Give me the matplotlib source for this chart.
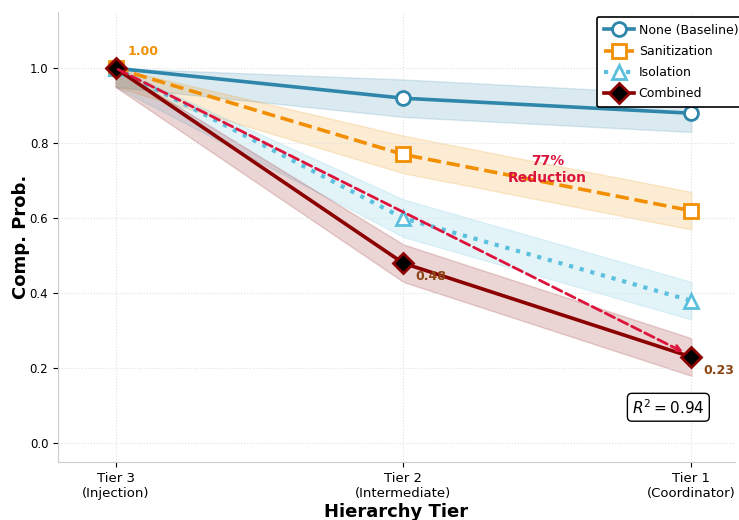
import numpy as np
import matplotlib
matplotlib.use("Agg")
import matplotlib.pyplot as plt


tiers = ["Tier 3\n(Injection)", "Tier 2\n(Intermediate)", "Tier 1\n(Coordinator)"]
labels = ["None (Baseline)", "Sanitization", "Isolation", "Combined"]
none_vals = [1.00, 0.92, 0.88]
sanit_vals = [1.00, 0.77, 0.62]
isol_vals = [1.00, 0.60, 0.38]
comb_vals = [1.00, 0.48, 0.23]
band = 0.05
r2 = 0.94


def main():
    fig, ax = plt.subplots(figsize=(7.39, 5.2), dpi=100)
    x = np.arange(len(tiers))

    series = [
        (none_vals, "#2E86AB", "-", "o", "white", "#2E86AB"),
        (sanit_vals, "#F18F01", "--", "s", "white", "#F18F01"),
        (isol_vals, "#5BC0DE", ":", "^", "white", "#5BC0DE"),
        (comb_vals, "#8B0000", "-", "D", "black", "#8B0000"),
    ]
    for (vals, col, ls, mk, fc, ec), lab in zip(series, labels):
        v = np.array(vals)
        ax.fill_between(x, v - band, np.minimum(v + band, 1.0), color=col,
                        alpha=0.17, zorder=1)
        ax.plot(x, v, color=col, ls=ls, lw=2.6 if ls != ":" else 3, marker=mk,
                ms=10, mfc=fc, mec=ec, mew=2, label=lab, zorder=3)

    ax.annotate("", xy=(x[2] - 0.02, comb_vals[2] + 0.01), xytext=(x[0], comb_vals[0]),
                arrowprops=dict(arrowstyle="->", color="#DC143C", lw=2, ls="--"),
                zorder=4)
    ax.text(1.5, 0.73, "77%\nReduction", color="#DC143C", fontsize=10,
            fontweight="bold", ha="center", va="center")

    ax.text(0.04, 1.035, "1.00", color="#F18F01", fontsize=9, fontweight="bold")
    ax.text(1.04, 0.435, "0.48", color="#8B4513", fontsize=9, fontweight="bold")
    ax.text(2.04, 0.185, "0.23", color="#8B4513", fontsize=9, fontweight="bold")

    ax.text(1.92, 0.096, "$R^2 = %.2f$" % r2, fontsize=11, ha="center", va="center",
            bbox=dict(boxstyle="round,pad=0.3", fc="white", ec="black", lw=1))

    ax.set_xticks(x)
    ax.set_xticklabels(tiers, fontsize=9.5)
    ax.set_xlim(-0.2, 2.15)
    ax.set_ylim(-0.05, 1.15)
    ax.set_yticks([0.0, 0.2, 0.4, 0.6, 0.8, 1.0])
    ax.tick_params(axis="y", labelsize=8.5)
    ax.set_xlabel("Hierarchy Tier", fontsize=13, fontweight="bold", labelpad=2)
    ax.set_ylabel("Comp. Prob.", fontsize=13, fontweight="bold", labelpad=0)
    ax.grid(True, ls=":", color="#e0e0e0", lw=0.8)
    for s in ["top", "right"]:
        ax.spines[s].set_visible(False)
    for s in ["left", "bottom"]:
        ax.spines[s].set_color("#cccccc")

    leg = ax.legend(loc="upper left", fontsize=9, frameon=True, fancybox=True,
                    framealpha=1, edgecolor="black", borderaxespad=0.0,
                    handlelength=2.4, handletextpad=0.4, borderpad=0.55,
                    labelspacing=0.65, bbox_to_anchor=(0.7964, 0.989))
    leg.get_frame().set_linewidth(1.2)

    fig.subplots_adjust(left=0.0785, right=0.994, top=0.977, bottom=0.1115)
    fig.savefig("out.png", dpi=100)


if __name__ == "__main__":
    main()
